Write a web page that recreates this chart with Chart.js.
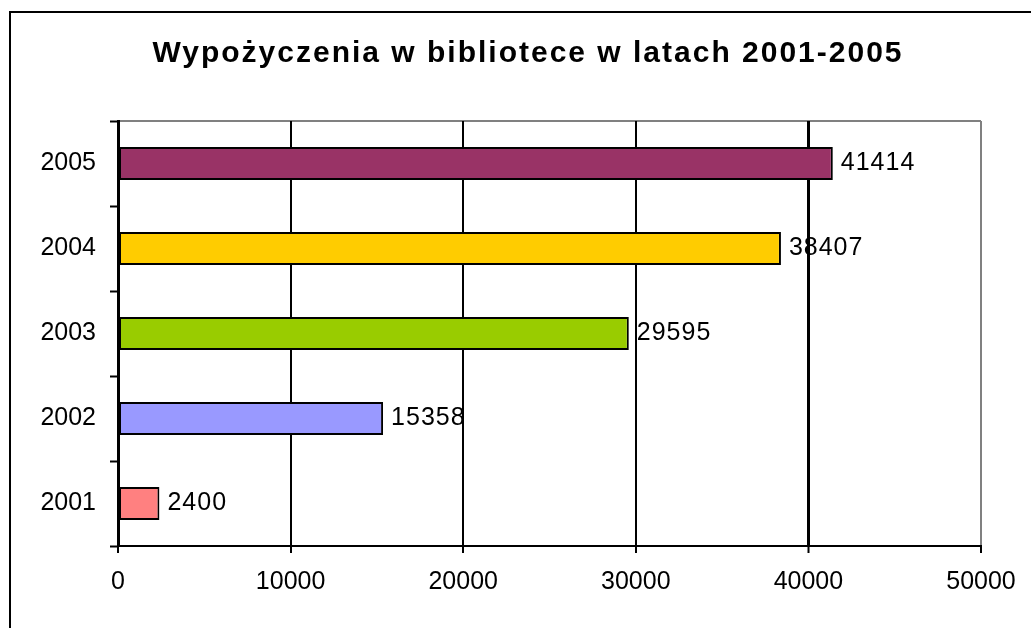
<!DOCTYPE html>
<html lang="pl">
  <head>
    <meta charset="UTF-8" />
    <title>Wypożyczenia w bibliotece</title>
    <style>
      html, body { margin: 0; padding: 0; background: #ffffff; }
      #wrap { width: 1031px; height: 628px; }
    </style>
  </head>
  <body>
    <div id="wrap"><canvas id="loansChart" width="1031" height="628"></canvas></div>

    <script src="https://cdn.jsdelivr.net/npm/chart.js"></script>
    <script>
      // data
      const years = ["2001", "2002", "2003", "2004", "2005"];
      const loans = [2400, 15358, 29595, 38407, 41414];
      const barColors = ["#FF8080", "#9999FF", "#99CC00", "#FFCC00", "#993366"];
      const xTicks = [0, 10000, 20000, 30000, 40000, 50000];

      const chartTitle = "Wypożyczenia w bibliotece w latach 2001-2005";
      const fontFamily = "'Liberation Sans', Arial, sans-serif";

      //! frame, title and value labels
      const extras = {
        id: "extras",
        beforeDraw(chart) {
          const ctx = chart.ctx;
          const area = chart.chartArea;
          ctx.save();
          // outer border of the chart object
          ctx.strokeStyle = "#000";
          ctx.lineWidth = 2;
          ctx.beginPath();
          ctx.moveTo(10, 628);
          ctx.lineTo(10, 12);
          ctx.lineTo(1031, 12);
          ctx.stroke();

          // title
          ctx.fillStyle = "#000";
          ctx.font = "bold 30px " + fontFamily;
          ctx.letterSpacing = "2px";
          ctx.textAlign = "center";
          ctx.textBaseline = "alphabetic";
          ctx.fillText(chartTitle, 528, 62);

          // value labels (drawn under the grid, like the original)
          ctx.letterSpacing = "1px";
          ctx.font = "25px " + fontFamily;
          ctx.textAlign = "left";
          ctx.textBaseline = "middle";
          chart.getDatasetMeta(0).data.forEach((bar, i) => {
            ctx.fillText(String(loans[i]), bar.x + 8, bar.y);
          });

          // grey top edge of plot area
          ctx.letterSpacing = "0px";
          ctx.strokeStyle = "#808080";
          ctx.lineWidth = 2;
          ctx.beginPath();
          ctx.moveTo(area.left, area.top);
          ctx.lineTo(area.right, area.top);
          ctx.stroke();
          ctx.restore();
        },
      };

      const ctx = document.getElementById("loansChart").getContext("2d");
      const loansChart = new Chart(ctx, {
        type: "bar",
        data: {
          labels: years,
          datasets: [
            {
              data: loans,
              backgroundColor: barColors,
              borderColor: "#000",
              borderWidth: 2,
              borderSkipped: false,
              categoryPercentage: 1,
              barPercentage: 0.39,
            },
          ],
        },
        options: {
          indexAxis: "y",
          responsive: false,
          animation: false,
          events: [],
          layout: { padding: { top: 121, right: 50, left: 0, bottom: 0 } },
          plugins: {
            legend: { display: false },
            title: { display: false },
            tooltip: { enabled: false },
          },
          scales: {
            x: {
              min: 0,
              max: 50000,
              afterBuildTicks: (scale) => {
                scale.ticks = xTicks.map((v) => ({ value: v }));
              },
              afterFit: (scale) => {
                scale.height = 82;
              },
              border: { color: "#000", width: 2 },
              grid: {
                color: (c) => (c.tick && c.tick.value === 50000 ? "#808080" : "#000"),
                lineWidth: (c) => (c.tick && c.tick.value === 40000 ? 3 : 2),
                tickColor: "#000",
                tickLength: 7,
                tickWidth: 2,
              },
              ticks: {
                color: "#000",
                padding: 14,
                maxRotation: 0,
                font: { family: fontFamily, size: 25 },
                callback: (v) => String(v),
              },
            },
            y: {
              reverse: true,
              afterFit: (scale) => {
                scale.width = 118;
              },
              border: { color: "#000", width: 3 },
              grid: {
                drawOnChartArea: false,
                tickColor: "#000",
                tickLength: 8,
                tickWidth: 2,
              },
              ticks: {
                color: "#000",
                padding: 14,
                font: { family: fontFamily, size: 25 },
              },
            },
          },
        },
        plugins: [extras],
      });
    </script>
  </body>
</html>
